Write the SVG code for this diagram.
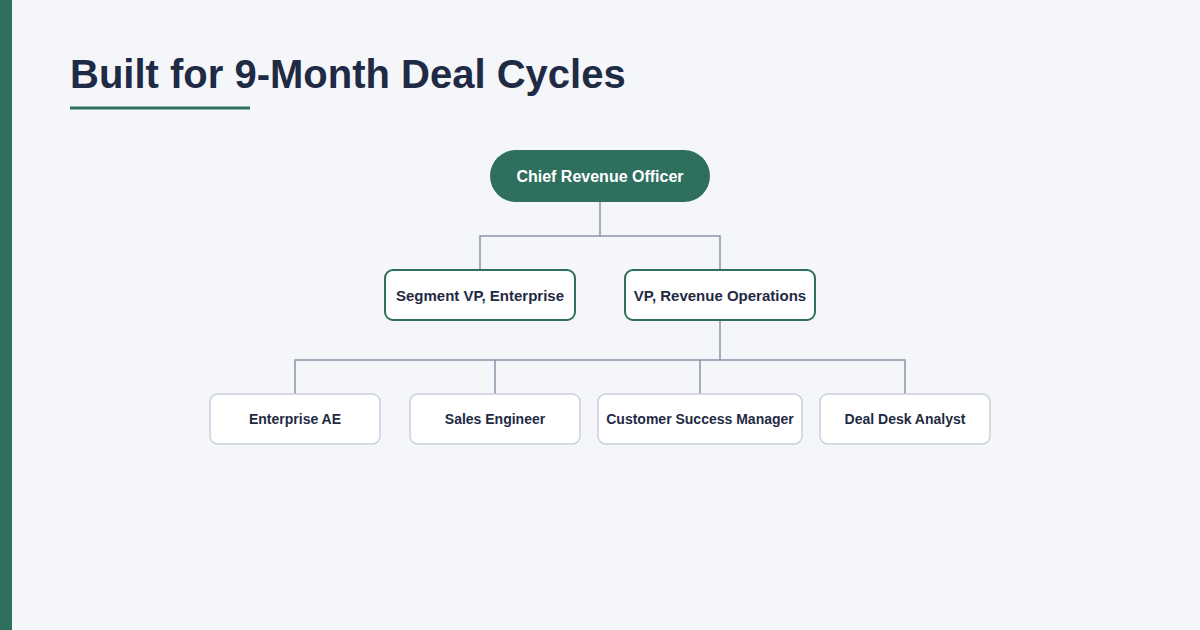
<svg xmlns="http://www.w3.org/2000/svg" width="1200" height="630" viewBox="0 0 1200 630">
  <style>
    .title { font-family: "Liberation Sans", Arial, sans-serif; font-size: 40px; font-weight: 700; fill: #1f2a44; }
    .box { fill: #ffffff; stroke: #c9cfdb; stroke-width: 1.5; }
    .lead { fill: #2f6f5e; stroke: none; }
    .mid { fill: #ffffff; stroke: #2f6f5e; stroke-width: 2; }
    .label { font-family: "Liberation Sans", Arial, sans-serif; font-size: 15px; font-weight: 700; fill: #1f2a44; text-anchor: middle; dominant-baseline: central; }
    .label-sm { font-family: "Liberation Sans", Arial, sans-serif; font-size: 14px; font-weight: 700; fill: #1f2a44; text-anchor: middle; dominant-baseline: central; }
    .label-lead { font-family: "Liberation Sans", Arial, sans-serif; font-size: 16px; font-weight: 700; fill: #ffffff; text-anchor: middle; dominant-baseline: central; }
    .wire { fill: none; stroke: #8a94a8; stroke-width: 1.5; }
  </style>
  <rect width="1200" height="630" fill="#f4f6f9"/>
  <rect x="0" y="0" width="12" height="630" fill="#2f6f5e"/>
  <text class="title" x="70" y="88">Built for 9-Month Deal Cycles</text>
  <line x1="70" y1="108" x2="250" y2="108" stroke="#2f6f5e" stroke-width="3"/>

  <g id="connectors">
    <path class="wire" d="M600 202 V236 H480 V270"/>
    <path class="wire" d="M600 236 H720 V270"/>
    <path class="wire" d="M720 320 V360 H295 V394"/>
    <path class="wire" d="M495 360 V394"/>
    <path class="wire" d="M700 360 V394"/>
    <path class="wire" d="M720 360 H905 V394"/>
  </g>

  <g id="cro">
    <rect class="lead" x="490" y="150" width="220" height="52" rx="26"/>
    <text class="label-lead" x="600" y="176">Chief Revenue Officer</text>
  </g>
  <g id="vp-enterprise">
    <rect class="mid" x="385" y="270" width="190" height="50" rx="8"/>
    <text class="label" x="480" y="295">Segment VP, Enterprise</text>
  </g>
  <g id="vp-revops">
    <rect class="mid" x="625" y="270" width="190" height="50" rx="8"/>
    <text class="label" x="720" y="295">VP, Revenue Operations</text>
  </g>
  <g id="enterprise-ae">
    <rect class="box" x="210" y="394" width="170" height="50" rx="8"/>
    <text class="label-sm" x="295" y="419">Enterprise AE</text>
  </g>
  <g id="sales-engineer">
    <rect class="box" x="410" y="394" width="170" height="50" rx="8"/>
    <text class="label-sm" x="495" y="419">Sales Engineer</text>
  </g>
  <g id="csm">
    <rect class="box" x="598" y="394" width="204" height="50" rx="8"/>
    <text class="label-sm" x="700" y="419">Customer Success Manager</text>
  </g>
  <g id="deal-desk">
    <rect class="box" x="820" y="394" width="170" height="50" rx="8"/>
    <text class="label-sm" x="905" y="419">Deal Desk Analyst</text>
  </g>
</svg>
